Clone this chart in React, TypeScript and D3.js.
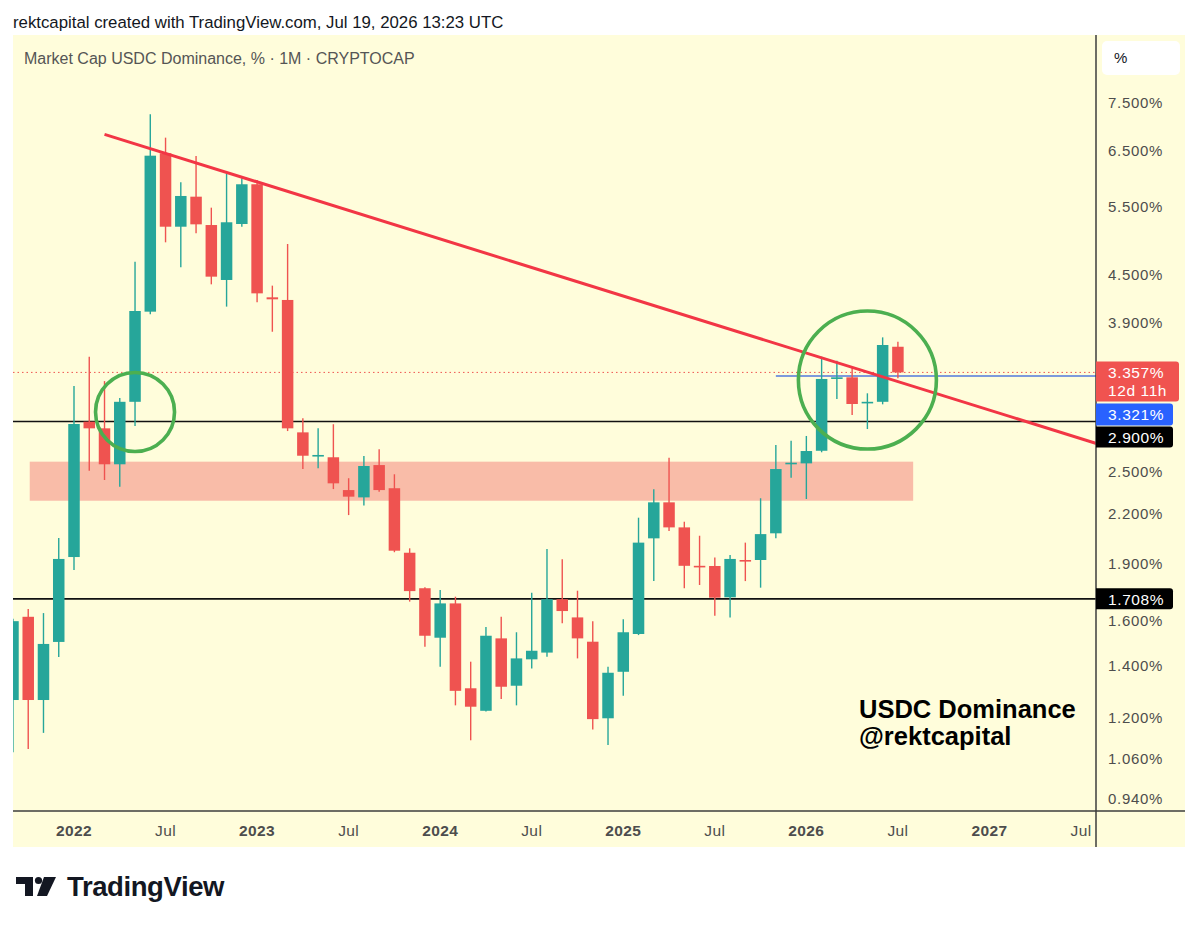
import React, { useEffect, useRef } from "react";
import * as d3 from "d3";

// monthly candles, USDC dominance in %
const months = [
  "2021-09", "2021-10", "2021-11", "2021-12",
  "2022-01", "2022-02", "2022-03", "2022-04", "2022-05", "2022-06",
  "2022-07", "2022-08", "2022-09", "2022-10", "2022-11", "2022-12",
  "2023-01", "2023-02", "2023-03", "2023-04", "2023-05", "2023-06",
  "2023-07", "2023-08", "2023-09", "2023-10", "2023-11", "2023-12",
  "2024-01", "2024-02", "2024-03", "2024-04", "2024-05", "2024-06",
  "2024-07", "2024-08", "2024-09", "2024-10", "2024-11", "2024-12",
  "2025-01", "2025-02", "2025-03", "2025-04", "2025-05", "2025-06",
  "2025-07", "2025-08", "2025-09", "2025-10", "2025-11", "2025-12",
  "2026-01", "2026-02", "2026-03", "2026-04", "2026-05", "2026-06",
  "2026-07",
];
const opens = [
  1.263, 1.619, 1.263, 1.502,
  1.935, 2.898, 2.841, 2.552, 3.075, 4.024,
  6.455, 5.185, 5.671, 5.211, 4.423, 5.227,
  5.885, 4.2, 4.167, 2.807, 2.615, 2.606,
  2.363, 2.312, 2.546, 2.376, 1.96, 1.763,
  1.521, 1.685, 1.308, 1.223, 1.518, 1.318,
  1.426, 1.455, 1.706, 1.616, 1.503, 1.196,
  1.374, 1.538, 2.046, 2.278, 2.114, 1.885,
  1.884, 1.716, 1.918, 1.918, 2.077, 2.552,
  2.559, 2.657, 3.292, 3.308, 3.061, 3.075,
  3.624,
];
const highs = [
  1.61, 1.657, 1.637, 2.048,
  3.223, 3.518, 3.271, 3.11, 4.671, 7.251,
  6.763, 5.92, 6.403, 5.488, 6.068, 5.991,
  5.96, 4.349, 4.924, 2.927, 2.841, 2.876,
  2.448, 2.616, 2.669, 2.477, 1.986, 1.768,
  1.754, 1.719, 1.416, 1.571, 1.619, 1.546,
  1.74, 1.982, 1.922, 1.75, 1.598, 1.395,
  1.607, 2.176, 2.368, 2.602, 2.15, 2.062,
  1.933, 1.947, 2.02, 2.306, 2.703, 2.738,
  2.777, 3.518, 3.476, 3.415, 3.154, 3.727,
  3.679,
];
const lows = [
  1.081, 1.091, 1.145, 1.436,
  1.861, 2.504, 2.435, 2.387, 2.861, 3.992,
  4.949, 4.594, 5.084, 4.366, 4.085, 5.185,
  4.139, 3.79, 2.818, 2.516, 2.522, 2.37,
  2.193, 2.256, 2.351, 1.963, 1.694, 1.481,
  1.395, 1.243, 1.12, 1.22, 1.267, 1.243,
  1.388, 1.437, 1.588, 1.43, 1.157, 1.104,
  1.279, 1.533, 1.801, 2.091, 1.763, 1.78,
  1.624, 1.616, 1.801, 1.766, 2.046, 2.452,
  2.301, 2.645, 3.101, 2.956, 2.835, 3.052,
  3.298,
];
const closes = [
  1.598, 1.263, 1.493, 1.924,
  2.878, 2.841, 2.552, 3.075, 4.032, 6.409,
  5.185, 5.683, 5.222, 4.467, 5.254, 5.885,
  4.25, 4.175, 2.841, 2.618, 2.624, 2.411,
  2.317, 2.539, 2.363, 1.972, 1.748, 1.53,
  1.685, 1.298, 1.238, 1.53, 1.314, 1.43,
  1.463, 1.706, 1.647, 1.518, 1.193, 1.37,
  1.546, 2.02, 2.278, 2.114, 1.885, 1.88,
  1.714, 1.924, 1.912, 2.072, 2.516, 2.564,
  2.655, 3.292, 3.308, 3.055, 3.075, 3.643,
  3.357,
];

const xTickMonths = [
  "2022-01", "2022-07", "2023-01", "2023-07", "2024-01", "2024-07",
  "2025-01", "2025-07", "2026-01", "2026-07", "2027-01", "2027-07",
];
const xTickLabels = [
  "2022", "Jul", "2023", "Jul", "2024", "Jul",
  "2025", "Jul", "2026", "Jul", "2027", "Jul",
];
const yTicks = [7.5, 6.5, 5.5, 4.5, 3.9, 2.5, 2.2, 1.9, 1.6, 1.4, 1.2, 1.06, 0.94];

// drawings
const levels = [2.9, 1.708];
const rayMonth = "2025-11";
const rayValue = 3.321;
const zoneMonths = ["2021-10", "2026-08"];
const zoneValues = [2.289, 2.572];
const trendMonths = ["2022-03", "2026-05"];
const trendValues = [6.83, 3.36];
const circleMonths = ["2022-05", "2026-05"];
const circleValues = [2.983, 3.281];
const countdown = "12d 11h";

const W = 1199;
const H = 927;
const plot = { left: 13, right: 1096, top: 35, bottom: 811 };
const panelRight = 1185;
const panelBottom = 847;
const circleRadii = [39.5, 69];

const UP = "#26a69a";
const DOWN = "#ef5350";
const BG = "#fffddb";
const AXIS_TEXT = "#4d4d4d";
const FONT = "'Liberation Sans', Arial, sans-serif";

const monthIndex = (m: string) => {
  const [yy, mm] = m.split("-").map(Number);
  return (yy - 2022) * 12 + (mm - 1);
};

const App: React.FC = () => {
  const svgRef = useRef<SVGSVGElement | null>(null);

  useEffect(() => {
    if (!svgRef.current) return;
    const svg = d3.select(svgRef.current);
    svg.selectAll("*").remove();

    const x = d3.scaleLinear().domain([0, 66]).range([74, 1081]);
    const y = d3.scaleLog().domain([0.94, 7.5]).range([799, 103]);

    svg.append("rect").attr("width", W).attr("height", H).attr("fill", "#ffffff");

    // header
    svg
      .append("text")
      .attr("x", 13)
      .attr("y", 28)
      .attr("font-family", FONT)
      .attr("font-size", 16.8)
      .attr("fill", "#131722")
      .text("rektcapital created with TradingView.com, Jul 19, 2026 13:23 UTC");

    // panel
    svg
      .append("rect")
      .attr("x", plot.left)
      .attr("y", plot.top)
      .attr("width", panelRight - plot.left)
      .attr("height", panelBottom - plot.top)
      .attr("fill", BG);

    svg
      .append("defs")
      .append("clipPath")
      .attr("id", "plot-clip")
      .append("rect")
      .attr("x", plot.left)
      .attr("y", plot.top)
      .attr("width", plot.right - plot.left)
      .attr("height", plot.bottom - plot.top);

    const g = svg.append("g").attr("clip-path", "url(#plot-clip)");

    g.append("text")
      .attr("x", 24)
      .attr("y", 64)
      .attr("font-family", FONT)
      .attr("font-size", 16)
      .attr("fill", "#555555")
      .text("Market Cap USDC Dominance, % · 1M · CRYPTOCAP");

    // support/resistance zone
    g.append("rect")
      .attr("x", x(monthIndex(zoneMonths[0])) + 1.5)
      .attr("y", y(zoneValues[1]))
      .attr("width", x(monthIndex(zoneMonths[1])) - x(monthIndex(zoneMonths[0])) - 1.5)
      .attr("height", y(zoneValues[0]) - y(zoneValues[1]))
      .attr("fill", "#f9bca8");

    const last = closes[closes.length - 1];

    // last price dotted line
    g.append("line")
      .attr("x1", plot.left)
      .attr("x2", plot.right)
      .attr("y1", y(last))
      .attr("y2", y(last))
      .attr("stroke", DOWN)
      .attr("stroke-width", 1)
      .attr("stroke-dasharray", "1.5,3");

    // horizontal levels
    g.selectAll("line.level")
      .data(levels)
      .enter()
      .append("line")
      .attr("class", "level")
      .attr("x1", plot.left)
      .attr("x2", plot.right)
      .attr("y1", (d) => y(d))
      .attr("y2", (d) => y(d))
      .attr("stroke", "#111111")
      .attr("stroke-width", 1.6);

    // blue ray
    g.append("line")
      .attr("x1", x(monthIndex(rayMonth)))
      .attr("x2", plot.right)
      .attr("y1", y(rayValue))
      .attr("y2", y(rayValue))
      .attr("stroke", "#5277dc")
      .attr("stroke-width", 1.5);

    // candles
    const candles = months.map((m, i) => ({
      i: monthIndex(m),
      o: opens[i],
      h: highs[i],
      l: lows[i],
      c: closes[i],
    }));
    const bw = 11.5;

    const cg = g
      .selectAll("g.candle")
      .data(candles)
      .enter()
      .append("g")
      .attr("class", "candle");

    cg.append("line")
      .attr("x1", (d) => x(d.i))
      .attr("x2", (d) => x(d.i))
      .attr("y1", (d) => y(d.h))
      .attr("y2", (d) => y(d.l))
      .attr("stroke", (d) => (d.c >= d.o ? UP : DOWN))
      .attr("stroke-width", 1.4);

    cg.append("rect")
      .attr("x", (d) => x(d.i) - bw / 2)
      .attr("y", (d) => y(Math.max(d.o, d.c)))
      .attr("width", bw)
      .attr("height", (d) => Math.max(1.6, Math.abs(y(d.o) - y(d.c))))
      .attr("fill", (d) => (d.c >= d.o ? UP : DOWN));

    // descending trendline, extended to the right edge
    const t0 = monthIndex(trendMonths[0]);
    const t1 = monthIndex(trendMonths[1]);
    const slope = (Math.log(trendValues[1]) - Math.log(trendValues[0])) / (t1 - t0);
    const tEnd = x.invert(plot.right + 2);
    g.append("line")
      .attr("x1", x(t0))
      .attr("y1", y(trendValues[0]))
      .attr("x2", x(tEnd))
      .attr("y2", y(Math.exp(Math.log(trendValues[0]) + slope * (tEnd - t0))))
      .attr("stroke", "#f23645")
      .attr("stroke-width", 3);

    // green circles
    g.selectAll("circle.mark")
      .data(circleMonths)
      .enter()
      .append("circle")
      .attr("class", "mark")
      .attr("cx", (d) => x(monthIndex(d)))
      .attr("cy", (_, i) => y(circleValues[i]))
      .attr("r", (_, i) => circleRadii[i])
      .attr("fill", "none")
      .attr("stroke", "#4caf50")
      .attr("stroke-width", 3.6);

    // watermark text
    const wm = g
      .append("text")
      .attr("font-family", FONT)
      .attr("font-weight", 700)
      .attr("font-size", 25.5)
      .attr("fill", "#000000");
    wm.append("tspan").attr("x", 859).attr("y", 718).text("USDC Dominance");
    wm.append("tspan").attr("x", 859).attr("y", 745).text("@rektcapital");

    // borders
    svg
      .append("line")
      .attr("x1", plot.right)
      .attr("x2", plot.right)
      .attr("y1", plot.top)
      .attr("y2", panelBottom)
      .attr("stroke", "#3d3d3d")
      .attr("stroke-width", 1.5);
    svg
      .append("line")
      .attr("x1", plot.left)
      .attr("x2", panelRight)
      .attr("y1", plot.bottom)
      .attr("y2", plot.bottom)
      .attr("stroke", "#3d3d3d")
      .attr("stroke-width", 1.5);

    // y axis labels
    svg
      .append("g")
      .selectAll("text")
      .data(yTicks)
      .enter()
      .append("text")
      .attr("x", 1108)
      .attr("y", (d) => y(d))
      .attr("dy", "0.36em")
      .attr("font-family", FONT)
      .attr("font-size", 15)
      .attr("letter-spacing", 0.7)
      .attr("fill", AXIS_TEXT)
      .text((d) => `${d.toFixed(3)}%`);

    // scale mode box
    svg
      .append("rect")
      .attr("x", 1102)
      .attr("y", 41)
      .attr("width", 78)
      .attr("height", 34)
      .attr("rx", 5)
      .attr("fill", "#ffffff");
    svg
      .append("text")
      .attr("x", 1114)
      .attr("y", 58)
      .attr("dy", "0.36em")
      .attr("font-family", FONT)
      .attr("font-size", 15)
      .attr("fill", "#131722")
      .text("%");

    // price tags on the axis
    const tag = (top: number, h: number, w: number, fill: string, lines: string[]) => {
      svg
        .append("path")
        .attr(
          "d",
          `M${plot.right},${top} H${plot.right + w - 3} Q${plot.right + w},${top} ${plot.right + w},${top + 3} V${top + h - 3} Q${plot.right + w},${top + h} ${plot.right + w - 3},${top + h} H${plot.right} Z`
        )
        .attr("fill", fill);
      lines.forEach((s, k) => {
        svg
          .append("text")
          .attr("x", 1108)
          .attr("y", top + 11 + k * 18.5)
          .attr("dy", "0.36em")
          .attr("font-family", FONT)
          .attr("font-size", 15.5)
          .attr("letter-spacing", 0.6)
          .attr("fill", "#ffffff")
          .text(s);
      });
    };
    const redTop = y(last) - 11;
    tag(redTop, 40, 83, "#f05350", [`${last.toFixed(3)}%`, countdown]);
    tag(redTop + 42, 22, 77, "#2962ff", [`${rayValue.toFixed(3)}%`]);
    tag(redTop + 65, 21, 77, "#000000", [`${levels[0].toFixed(3)}%`]);
    tag(y(levels[1]) - 10.5, 21, 77, "#000000", [`${levels[1].toFixed(3)}%`]);

    // x axis labels
    svg
      .append("g")
      .selectAll("text")
      .data(xTickMonths)
      .enter()
      .append("text")
      .attr("x", (d) => x(monthIndex(d)))
      .attr("y", 830)
      .attr("dy", "0.36em")
      .attr("text-anchor", "middle")
      .attr("font-family", FONT)
      .attr("font-size", 15.5)
      .attr("font-weight", (_, i) => (xTickLabels[i] === "Jul" ? 400 : 700))
      .attr("letter-spacing", 0.4)
      .attr("fill", AXIS_TEXT)
      .text((_, i) => xTickLabels[i]);

    // TradingView logo
    const logo = svg.append("g").attr("fill", "#131722");
    logo.append("path").attr("d", "M16,877 H33 V896 H25 V884 H16 Z");
    logo.append("circle").attr("cx", 38.5).attr("cy", 880.5).attr("r", 3.6);
    logo.append("path").attr("d", "M44,877 H56 L47,896 H37 Z");
    svg
      .append("text")
      .attr("x", 67)
      .attr("y", 896)
      .attr("font-family", FONT)
      .attr("font-weight", 700)
      .attr("font-size", 27.5)
      .attr("letter-spacing", -0.4)
      .attr("fill", "#131722")
      .text("TradingView");
  }, []);

  return (
    <svg
      ref={svgRef}
      width={W}
      height={H}
      style={{ position: "absolute", left: 0, top: 0, display: "block" }}
    />
  );
};

export default App;
